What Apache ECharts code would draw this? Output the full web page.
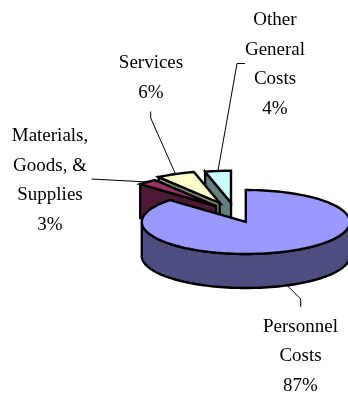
<!DOCTYPE html>
<html>
<head>
<meta charset="utf-8">
<style>
	html, body { margin: 0; padding: 0; background: #fff; }
	#chart { width: 348px; height: 394px; }
</style>
<script src="https://cdn.jsdelivr.net/npm/echarts@6/dist/echarts.min.js"></script>
</head>
<body>
<div id="chart"></div>
<script>
// drawn back to front, going anticlockwise from 12 o'clock
const categories = ['Other\nGeneral\nCosts', 'Services', 'Materials,\nGoods, &\nSupplies', 'Personnel\nCosts'];
const shares = [4, 6, 3, 87];

const topColors = ['#CCFFFF', '#FFFFCC', '#993366', '#9999FF'];
const wallColors = ['#668080', '#808066', '#4D1A33', '#4D4D80'];

// pie geometry in px
const cx = 245.8, cy = 222, rx = 104, ry = 32, depth = 34;
const explode = [[-14.8, -19.3], [-26, -19], [-29.8, -16], [0, 0]];
const labelCenters = [[275, 64.5], [151, 78], [50, 180.5], [300.5, 356.5]];
const leaderEnds = [[[237, 63.5], [245, 63.5]], [[150.7, 118], [150.7, 111.5]], [[91.5, 179], [91.5, 179]], [[300.7, 299], [300.7, 307]]];

const total = shares.reduce((a, b) => a + b, 0);

function ellipsePoint(x0, y0, deg){
	let a = deg * Math.PI / 180;
	return [x0 + rx * Math.sin(a), y0 - ry * Math.cos(a)];
}

function arcPoints(x0, y0, from, to){
	let pts = [];
	let n = Math.max(2, Math.ceil(Math.abs(to - from) / 2));
	for(let i = 0; i <= n; i++){
		pts.push(ellipsePoint(x0, y0, from + (to - from) * i / n));
	}
	return pts;
}

function poly(points, fill){
	return {
		type: 'polygon',
		shape: { points: points },
		style: { fill: fill, stroke: '#000', lineWidth: 2.4, lineJoin: 'miter' }
	};
}

function renderSlice(params, api){
	let i = params.dataIndex;
	let before = 0;
	for(let k = 0; k < i; k++) before += shares[k];
	let high = 360 - before / total * 360;
	let low = high - api.value(0) / total * 360;
	let ax = cx + explode[i][0], ay = cy + explode[i][1];
	let children = [];

	// cut side facing the viewer
	if(low > 180){
		let p = ellipsePoint(ax, ay, low);
		children.push(poly([p, [ax, ay], [ax, ay + depth], [p[0], p[1] + depth]], wallColors[i]));
	}
	// outer wall, only the front half of the rim shows
	let wallFrom = Math.max(low, 90), wallTo = Math.min(high, 270);
	if(wallTo > wallFrom){
		let rimTop = arcPoints(ax, ay, wallFrom, wallTo);
		let rimBottom = arcPoints(ax, ay + depth, wallTo, wallFrom);
		children.push(poly(rimTop.concat(rimBottom), wallColors[i]));
	}
	// top face
	children.push(poly([[ax, ay]].concat(arcPoints(ax, ay, low, high)), topColors[i]));

	// leader line from the middle of the rim
	let mid = (low + high) / 2;
	let start = ellipsePoint(ax, ay, mid);
	if(mid > 90 && mid < 270) start[1] += depth;
	children.push({
		type: 'polyline',
		shape: { points: [start].concat(leaderEnds[i]) },
		style: { fill: null, stroke: '#000', lineWidth: 1 }
	});

	children.push({
		type: 'text',
		x: labelCenters[i][0],
		y: labelCenters[i][1],
		style: {
			text: categories[i] + '\n' + api.value(0) + '%',
			fill: '#000',
			font: '19px "Liberation Serif", "Times New Roman", serif',
			lineHeight: 29.4,
			align: 'center',
			verticalAlign: 'middle'
		}
	});

	return { type: 'group', children: children };
}

let chart = echarts.init(document.getElementById('chart'), null, { renderer: 'canvas' });
chart.setOption({
	backgroundColor: '#fff',
	animation: false,
	series: [{
		type: 'custom',
		coordinateSystem: 'none',
		silent: true,
		renderItem: renderSlice,
		data: shares.map(v => [v])
	}]
});
</script>
</body>
</html>
